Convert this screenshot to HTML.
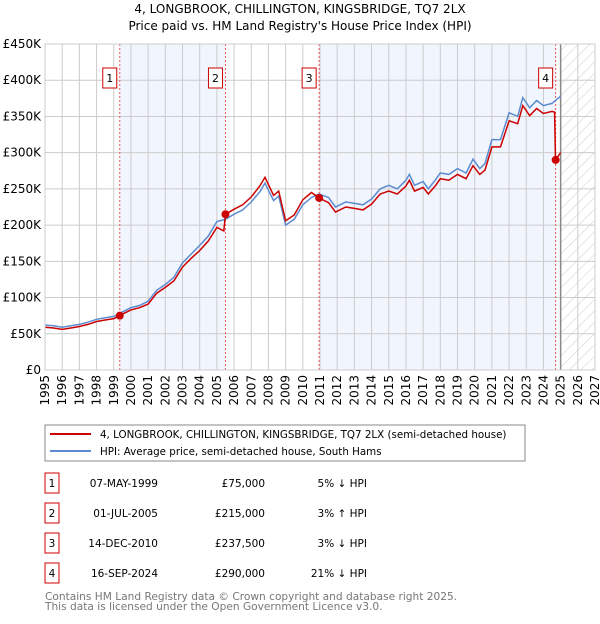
<!DOCTYPE html>
<html><head><meta charset="utf-8"><style>
body{margin:0;background:#fff;width:600px;height:620px;overflow:hidden;font-family:"DejaVu Sans","Liberation Sans",sans-serif}
svg text{font-family:"DejaVu Sans","Liberation Sans",sans-serif}
</style></head><body>
<svg id="chart" width="600" height="620" xmlns="http://www.w3.org/2000/svg">
<defs><pattern id="hatch" width="8" height="8" patternUnits="userSpaceOnUse" patternTransform="rotate(45)"><line x1="0" y1="0" x2="0" y2="8" stroke="#ccc" stroke-width="1"/></pattern></defs>
<text x="300" y="13" text-anchor="middle" font-size="12">4, LONGBROOK, CHILLINGTON, KINGSBRIDGE, TQ7 2LX</text>
<text x="300" y="30" text-anchor="middle" font-size="12">Price paid vs. HM Land Registry's House Price Index (HPI)</text>
<g id="plot"></g>
<rect x="45" y="425" width="480" height="36" fill="#fff" stroke="#888"/>
<line x1="50" y1="434" x2="91" y2="434" stroke="#cc0000" stroke-width="2"/>
<text x="100" y="438" font-size="10.3">4, LONGBROOK, CHILLINGTON, KINGSBRIDGE, TQ7 2LX (semi-detached house)</text>
<line x1="50" y1="451" x2="91" y2="451" stroke="#5b8bd0" stroke-width="2"/>
<text x="100" y="455" font-size="10.3">HPI: Average price, semi-detached house, South Hams</text>
<g id="table" font-size="10.5"></g>
<text x="45" y="600" font-size="10.6" fill="#777">Contains HM Land Registry data © Crown copyright and database right 2025.</text>
<text x="45" y="610" font-size="10.6" fill="#777">This data is licensed under the Open Government Licence v3.0.</text>
</svg>
<script>
const hpiYears=[1995,1995.5,1996,1996.5,1997,1997.5,1998,1998.5,1999,1999.35,1999.5,2000,2000.5,2001,2001.5,2002,2002.5,2003,2003.5,2004,2004.5,2005,2005.5,2006,2006.5,2007,2007.5,2007.8,2008,2008.3,2008.6,2009,2009.5,2010,2010.5,2010.95,2011.5,2011.9,2012.5,2013,2013.5,2014,2014.5,2015,2015.5,2016,2016.2,2016.5,2017,2017.3,2017.7,2018,2018.5,2019,2019.5,2019.9,2020.3,2020.6,2021,2021.5,2022,2022.5,2022.8,2023.2,2023.6,2024,2024.5,2025];
const hpiValues=[62,61,59,61,63,66,70,72,74,78,80,86,89,95,110,118,128,148,160,172,185,205,208,215,221,232,246,258,248,234,240,200,208,228,238,243,238,225,232,230,228,236,250,255,250,262,270,255,260,250,262,272,270,278,272,291,278,285,318,318,355,350,376,362,372,365,368,378];
const priceYears=[1995,1995.5,1996,1996.5,1997,1997.5,1998,1998.5,1999,1999.35,1999.5,2000,2000.5,2001,2001.5,2002,2002.5,2003,2003.5,2004,2004.5,2005,2005.4,2005.5,2006,2006.5,2007,2007.5,2007.8,2008,2008.3,2008.6,2009,2009.5,2010,2010.5,2010.95,2011.5,2011.9,2012.5,2013,2013.5,2014,2014.5,2015,2015.5,2016,2016.2,2016.5,2017,2017.3,2017.7,2018,2018.5,2019,2019.5,2019.9,2020.3,2020.6,2021,2021.5,2022,2022.5,2022.8,2023.2,2023.6,2024,2024.5,2024.65,2024.7,2025];
const priceValues=[59,58,56,58,60,63,67,69,71,75,77,83,86,91,106,114,123,142,154,165,178,197,192,215,222,228,239,254,266,256,241,247,206,214,235,245,237.5,231,218,225,223,221,229,243,247,243,254,262,247,252,243,254,264,262,270,264,282,270,276,308,308,344,340,365,351,361,354,357,356,290,300];
const saleYears=[1999.35,2005.5,2010.95,2024.71];
const saleValues=[75,215,237.5,290];
const saleLabels=["1","2","3","4"];
const saleDates=["07-MAY-1999","01-JUL-2005","14-DEC-2010","16-SEP-2024"];
const salePrices=["£75,000","£215,000","£237,500","£290,000"];
const saleDiffs=["5% ↓ HPI","3% ↑ HPI","3% ↓ HPI","21% ↓ HPI"];
const yTicks=[0,50,100,150,200,250,300,350,400,450];
const yTickLabels=["£0","£50K","£100K","£150K","£200K","£250K","£300K","£350K","£400K","£450K"];
const xTicks=[1995,1996,1997,1998,1999,2000,2001,2002,2003,2004,2005,2006,2007,2008,2009,2010,2011,2012,2013,2014,2015,2016,2017,2018,2019,2020,2021,2022,2023,2024,2025,2026,2027];
const X0=45,X1=595,Y0=370,Y1=44;
const xs=y=>X0+(y-1995)/(2027-1995)*(X1-X0);
const ys=v=>Y0-v/450*(Y0-Y1);
const NS="http://www.w3.org/2000/svg";
const plot=document.getElementById('plot');
function mk(tag,attrs,parent){const e=document.createElementNS(NS,tag);for(const k in attrs)e.setAttribute(k,attrs[k]);(parent||plot).appendChild(e);return e;}
let e;
e=mk('rect',{x:X0,y:Y1,width:X1-X0,height:Y0-Y1,fill:'#fff'});


e=mk('rect',{x:xs(saleYears[0]),y:Y1,width:xs(saleYears[1])-xs(saleYears[0]),height:Y0-Y1,fill:'#f1f5fd'});


e=mk('rect',{x:xs(saleYears[2]),y:Y1,width:xs(saleYears[3])-xs(saleYears[2]),height:Y0-Y1,fill:'#f1f5fd'});


e=mk('rect',{x:xs(2025),y:Y1,width:X1-xs(2025),height:Y0-Y1,fill:'url(#hatch)'});


yTicks.forEach((v,i)=>{
 e=mk('line',{x1:X0,x2:X1,y1:ys(v),y2:ys(v),stroke:'#ccc'});
 
 
 e=mk('text',{x:X0-4,y:ys(v)+4,'text-anchor':'end','font-size':12});
 e.textContent=yTickLabels[i];
 
 
});
xTicks.forEach(t=>{
 e=mk('line',{x1:xs(t),x2:xs(t),y1:Y1,y2:Y0,stroke:'#ccc'});
 
 
 e=mk('text',{x:0,y:0,'text-anchor':'end','font-size':12,transform:`translate(${xs(t)+4},${Y0+5}) rotate(-90)`});
 e.textContent=t;
 
 
});
e=mk('line',{x1:xs(2025),x2:xs(2025),y1:Y1,y2:Y0,stroke:'#888','stroke-width':1.5});


saleYears.forEach((y,i)=>{
 e=mk('line',{x1:xs(y),x2:xs(y),y1:Y1,y2:Y0,stroke:'#e55','stroke-dasharray':'2,2','stroke-width':1});
 
 
});
e=mk('path',{d:hpiYears.map((y,i)=>(i?'L':'M')+xs(y).toFixed(1)+','+ys(hpiValues[i]).toFixed(1)).join(''),fill:'none',stroke:'#5b8bd0','stroke-width':1.5});


e=mk('path',{d:priceYears.map((y,i)=>(i?'L':'M')+xs(y).toFixed(1)+','+ys(priceValues[i]).toFixed(1)).join(''),fill:'none',stroke:'#cc0000','stroke-width':1.5});


saleYears.forEach((y,i)=>{
 e=mk('circle',{cx:xs(y),cy:ys(saleValues[i]),r:4,fill:'#cc0000'});
 
 
 e=mk('rect',{x:xs(y)-17,y:68,width:14,height:20,fill:'#fff',stroke:'#cc0000'});
 
 
 e=mk('text',{x:xs(y)-10,y:82,'text-anchor':'middle','font-size':11});
 e.textContent=saleLabels[i];
 
 
});
e=mk('rect',{x:X0,y:Y1,width:X1-X0,height:Y0-Y1,fill:'none',stroke:'#ccc'});


const table=document.getElementById('table');
saleLabels.forEach((l,i)=>{
 const cy=483+i*30;
 e=mk('rect',{x:45,y:cy-10,width:14,height:20,fill:'#fff',stroke:'#cc0000'},table);
 
 
 e=mk('text',{x:52,y:cy+4,'text-anchor':'middle'},table);
 e.textContent=l;
 
 
 e=mk('text',{x:158,y:cy+4,'text-anchor':'end'},table);
 e.textContent=saleDates[i];
 
 
 e=mk('text',{x:265,y:cy+4,'text-anchor':'end'},table);
 e.textContent=salePrices[i];
 
 
 e=mk('text',{x:367,y:cy+4,'text-anchor':'end'},table);
 e.textContent=saleDiffs[i];
 
 
});
</script>
</body></html>
